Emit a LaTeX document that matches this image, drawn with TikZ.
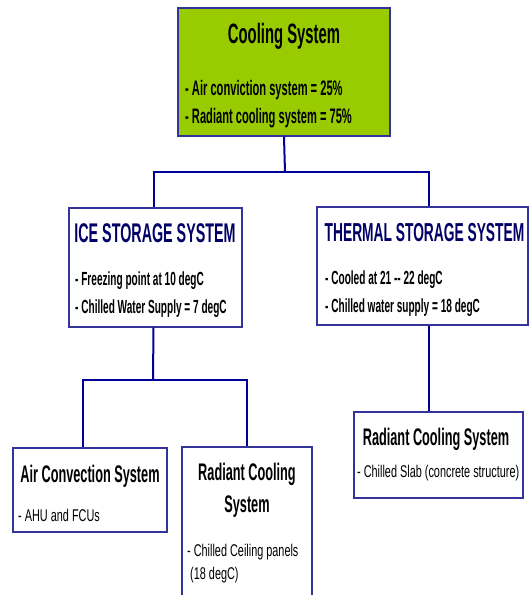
\documentclass[tikz,border=0pt]{standalone}
\usepackage{fontspec}
\setmainfont{Liberation Sans}
\newfontfamily\narrowfont{Liberation Sans}[FakeStretch=0.53]
\newfontfamily\plainfont{Liberation Sans}[FakeStretch=0.64]
\usetikzlibrary{positioning}
\definecolor{boxgreen}{HTML}{99CC00}
\definecolor{linkblue}{HTML}{000099}
\definecolor{edgeblue}{HTML}{333399}
\definecolor{headnavy}{HTML}{000066}

\begin{document}
\begin{tikzpicture}[x=1pt, y=-1pt,
    box/.style={draw=edgeblue, line width=1.4pt, inner sep=0pt},
    link/.style={draw=linkblue, line width=2pt},
    head/.style={anchor=base, inner sep=0pt, font=\narrowfont\bfseries\fontsize{28}{30}\selectfont},
    subhead/.style={anchor=base, inner sep=0pt, font=\narrowfont\bfseries\fontsize{24}{26}\selectfont},
    item/.style={anchor=base west, inner sep=0pt, font=\narrowfont\bfseries\fontsize{19}{21}\selectfont},
    note/.style={anchor=base west, inner sep=0pt, font=\plainfont\fontsize{17}{19}\selectfont}]
    \clip (0,0) rectangle (529,595);

    % boxes
    \node[box, fill=boxgreen, minimum width=212pt, minimum height=128pt] (cool) at (284,72) {};
    \node[box, fill=white, minimum width=173pt, minimum height=119pt] (ice) at (155.5,267.5) {};
    \node[box, fill=white, minimum width=211pt, minimum height=118pt] (thermal) at (422.5,266) {};
    \node[box, fill=white, minimum width=154pt, minimum height=84pt] (aircon) at (90,490) {};
    \node[box, fill=white, minimum width=130pt, minimum height=173pt] (radl) at (247,533.5) {};
    \node[box, fill=white, minimum width=169pt, minimum height=86pt] (radr) at (438.5,455) {};

    % connectors
    \coordinate (split) at (285,172);
    \coordinate (icesplit) at (153,380);
    \draw[link] (cool.south) -- (split);
    \draw[link] (split) -| ([xshift=-2pt]ice.north);
    \draw[link] (split) -| ([xshift=6pt]thermal.north);
    \draw[link] ([xshift=-2pt]ice.south) -- (icesplit);
    \draw[link] (icesplit) -| ([xshift=-7pt]aircon.north);
    \draw[link] (icesplit) -| (radl.north);
    \draw[link] ([xshift=6pt]thermal.south) -- ([xshift=6pt]thermal.south |- radr.north);

    % texts
    \node[head] (cooltitle) at (284,43) {Cooling System};
    \node[item, font=\narrowfont\bfseries\fontsize{21}{23}\selectfont] (coolone) at (185,95) {- Air conviction system = 25\%};
    \node[item, font=\narrowfont\bfseries\fontsize{21}{23}\selectfont] (cooltwo) at (185,123) {- Radiant cooling system = 75\%};

    \node[head, text=headnavy, font=\narrowfont\bfseries\fontsize{27}{29}\selectfont] (icetitle) at (155,242) {ICE STORAGE SYSTEM};
    \node[item] (iceone) at (75,285) {- Freezing point at 10 degC};
    \node[item] (icetwo) at (75,313) {- Chilled Water Supply = 7 degC};

    \node[head, text=headnavy, font=\narrowfont\bfseries\fontsize{26}{28}\selectfont] (thermaltitle) at (424.5,241) {THERMAL STORAGE SYSTEM};
    \node[item] (thermalone) at (325,284) {- Cooled at 21 -- 22 degC};
    \node[item] (thermaltwo) at (325,312) {- Chilled water supply = 18 degC};

    \node[subhead] (aircontitle) at (90,482) {Air Convection System};
    \node[note] (airconone) at (18,521) {- AHU and FCUs};

    \node[subhead] (radltitle) at (247,480) {Radiant Cooling};
    \node[subhead] (radltitletwo) at (247,512) {System};
    \node[note] (radlone) at (187,556) {- Chilled Ceiling panels};
    \node[note] (radltwo) at (187,579) {\ (18 degC)};

    \node[subhead] (radrtitle) at (436,445) {Radiant Cooling System};
    \node[note] (radrone) at (357,477) {- Chilled Slab (concrete structure)};
\end{tikzpicture}
\end{document}
